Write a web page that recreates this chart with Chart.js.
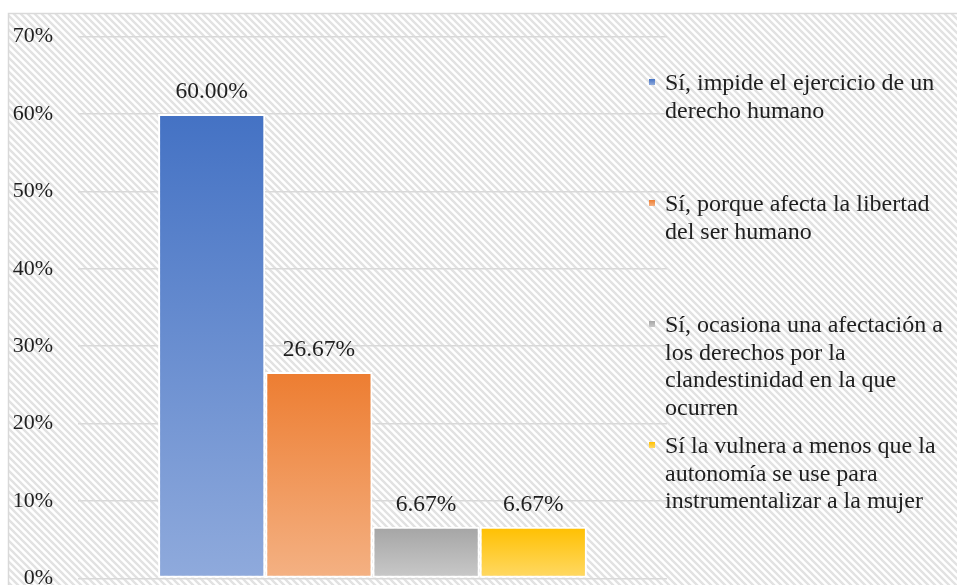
<!DOCTYPE html>
<html>
<head>
<meta charset="utf-8">
<script src="https://cdn.jsdelivr.net/npm/chart.js@4.4.1/dist/chart.umd.min.js"></script>
<style>
  html, body { margin: 0; padding: 0; background: #fff; overflow: hidden; }
  #wrap { position: relative; width: 957px; height: 585px; }
</style>
</head>
<body>
<div id="wrap"><canvas id="chart"></canvas></div>
<script>
// single category, one series per answer (legend on the right)
const categories = [''];
const seriesNames = [
  ['Sí, impide el ejercicio de un', 'derecho humano'],
  ['Sí, porque afecta la libertad', 'del ser humano'],
  ['Sí, ocasiona una afectación a', 'los derechos por la', 'clandestinidad en la que', 'ocurren'],
  ['Sí la vulnera a menos que la', 'autonomía se use para', 'instrumentalizar a la mujer']
];
const seriesValues = [60.00, 26.67, 6.67, 6.67];
const topColors = ['#4472C4', '#ED7D31', '#A5A5A5', '#FFC000'];
const bottomColors = ['#8FAADC', '#F4B183', '#C9C9C9', '#FFD966'];
const yTicks = [0, 10, 20, 30, 40, 50, 60, 70];

const FONT = "'Liberation Serif', 'Times New Roman', serif";

function hatchPattern(ctx) {
  const t = document.createElement('canvas');
  t.width = 7; t.height = 7;
  const c = t.getContext('2d');
  c.fillStyle = '#ffffff';
  c.fillRect(0, 0, 7, 7);
  c.strokeStyle = '#e2e2e2';
  c.lineWidth = 2.4;
  c.beginPath();
  c.moveTo(-1, -1); c.lineTo(8, 8);
  c.moveTo(-8, -1); c.lineTo(1, 8);
  c.moveTo(6, -1); c.lineTo(15, 8);
  c.stroke();
  return ctx.createPattern(t, 'repeat');
}

function barGradient(c) {
  const chart = c.chart;
  const i = c.datasetIndex;
  if (!chart.chartArea) return topColors[i];
  const y = chart.scales.y;
  const g = chart.ctx.createLinearGradient(0, y.getPixelForValue(c.raw), 0, y.getPixelForValue(0));
  g.addColorStop(0, topColors[i]);
  g.addColorStop(1, bottomColors[i]);
  return g;
}

const backdrop = {
  id: 'backdrop',
  beforeDraw(chart) {
    const ctx = chart.ctx;
    ctx.save();
    ctx.fillStyle = '#ffffff';
    ctx.fillRect(0, 0, chart.width, chart.height);
    ctx.fillStyle = hatchPattern(ctx);
    ctx.fillRect(9, 14, chart.width, chart.height);
    ctx.strokeStyle = '#d9d9d9';
    ctx.lineWidth = 1.5;
    ctx.strokeRect(8.5, 13.5, chart.width + 20, chart.height + 20);
    ctx.restore();
  }
};

const valueLabels = {
  id: 'valueLabels',
  afterDatasetsDraw(chart) {
    const ctx = chart.ctx;
    ctx.save();
    ctx.font = '23.5px ' + FONT;
    ctx.fillStyle = '#1f1f1f';
    ctx.textAlign = 'center';
    ctx.textBaseline = 'alphabetic';
    chart.data.datasets.forEach((ds, i) => {
      chart.getDatasetMeta(i).data.forEach((bar, j) => {
        ctx.fillText(ds.data[j].toFixed(2) + '%', bar.x, bar.y - 16);
      });
    });
    ctx.restore();
  }
};

const sideLegend = {
  id: 'sideLegend',
  afterDraw(chart) {
    const ctx = chart.ctx;
    ctx.save();
    ctx.font = '24px ' + FONT;
    ctx.textAlign = 'left';
    ctx.textBaseline = 'alphabetic';
    seriesNames.forEach((lines, i) => {
      const base = 90 + i * 121;
      const g = ctx.createLinearGradient(0, base - 11, 0, base - 5);
      g.addColorStop(0, topColors[i]);
      g.addColorStop(1, bottomColors[i]);
      ctx.fillStyle = g;
      ctx.fillRect(649, base - 11, 6, 6);
      ctx.fillStyle = '#1f1f1f';
      lines.forEach((t, k) => ctx.fillText(t, 665, base + k * 27.5));
    });
    ctx.restore();
  }
};

new Chart(document.getElementById('chart'), {
  type: 'bar',
  data: {
    labels: categories,
    datasets: seriesValues.map((v, i) => ({
      label: seriesNames[i].join(' '),
      data: [v],
      backgroundColor: barGradient,
      borderColor: '#ffffff',
      borderWidth: 2,
      borderSkipped: false,
      barPercentage: 1,
      categoryPercentage: 0.728
    }))
  },
  options: {
    responsive: true,
    maintainAspectRatio: false,
    animation: false,
    layout: { padding: { left: 0, right: 290, top: 36.5, bottom: 6.5 } },
    plugins: { legend: { display: false }, tooltip: { enabled: false } },
    scales: {
      x: { display: false },
      y: {
        min: 0,
        max: 70,
        afterFit(scale) {
          scale.width = 78;
          scale.paddingTop = 0;
          scale.paddingBottom = 0;
        },
        afterBuildTicks(scale) { scale.ticks = yTicks.map(v => ({ value: v })); },
        border: { display: false },
        grid: { color: '#d9d9d9', lineWidth: 1.5, drawTicks: false },
        ticks: {
          padding: 25,
          color: '#1f1f1f',
          font: { family: FONT, size: 22 },
          callback: v => v + '%'
        }
      }
    }
  },
  plugins: [backdrop, valueLabels, sideLegend]
});
</script>
</body>
</html>
